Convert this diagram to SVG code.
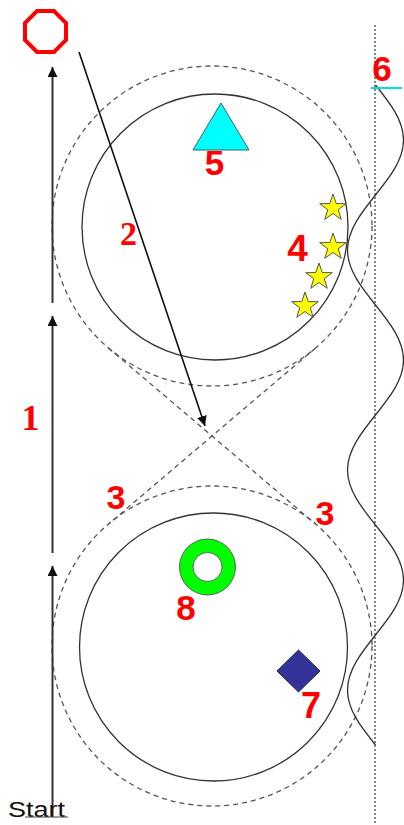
<svg xmlns="http://www.w3.org/2000/svg" width="404" height="825" viewBox="0 0 404 825">
<style>
.solid{fill:none;stroke:#333;stroke-width:1.3}
.dash{fill:none;stroke:#555;stroke-width:1.3;stroke-dasharray:5 4}
.arr{fill:none;stroke:#333;stroke-width:2}
.lbl{font-family:"Liberation Sans",Arial,sans-serif;font-weight:bold;fill:#ff0000;text-anchor:middle}
.lbs{font-family:"Liberation Serif","Times New Roman",serif;font-weight:bold;fill:#ff0000;text-anchor:middle}
.star{fill:#ffff00;stroke:#555;stroke-width:1}
</style>
<defs>
<marker id="ah" markerUnits="userSpaceOnUse" markerWidth="10" markerHeight="10" refX="10" refY="5" orient="auto" viewBox="0 0 10 10">
<path d="M0,0 L10,5 L0,10 Z" fill="#111"/>
</marker>
<path id="starShape" d="M0,-14 L3.23,-4.45 L13.31,-4.33 L5.23,1.7 L8.23,11.33 L0,5.5 L-8.23,11.33 L-5.23,1.7 L-13.31,-4.33 L-3.23,-4.45 Z"/>
</defs>

<g id="track">
<circle class="dash" cx="212" cy="226" r="160"/>
<circle class="dash" cx="212" cy="646" r="160"/>
<line class="dash" x1="108.4" y1="347.9" x2="315.6" y2="524.1"/>
<line class="dash" x1="315.6" y1="347.9" x2="108.4" y2="524.1"/>
<circle class="solid" cx="215" cy="227" r="133"/>
<circle class="solid" cx="213.5" cy="647" r="134"/>
</g>

<g id="boundary">
<line x1="375" y1="25" x2="375" y2="823" stroke="#111" stroke-width="1" stroke-dasharray="2 2"/>
<path class="solid" d="M375.5,85 C390.1,103.2 403.5,120 403.5,140 C403.5,180 347.5,210 347.5,250 C347.5,290 403.5,320 403.5,360 C403.5,400 347.5,430 347.5,470 C347.5,510 403.5,540 403.5,580 C403.5,620 347.5,650 347.5,690 C347.5,710 360.9,726.8 375.5,745"/>
<line x1="371" y1="88" x2="402" y2="88" stroke="#00e0e0" stroke-width="2"/>
</g>

<g id="connectors">
<line class="arr" x1="52.5" y1="817" x2="52.5" y2="566" marker-end="url(#ah)"/>
<line class="arr" x1="52.5" y1="553" x2="52.5" y2="316" marker-end="url(#ah)"/>
<line class="arr" x1="52.5" y1="303" x2="52.5" y2="67" marker-end="url(#ah)"/>
<line x1="79" y1="52" x2="205" y2="426" stroke="#111" stroke-width="1.6" marker-end="url(#ah)"/>
</g>

<g id="stop">
<polygon points="37,11 54,11 66,23 66,40 54,52 37,52 25,40 25,23" fill="none" stroke="#ff0000" stroke-width="4"/>
</g>

<g id="triangle">
<polygon points="221,103 193,150 249,150" fill="#00ffff" stroke="#336666" stroke-width="1"/>
</g>

<g id="stars">
<use href="#starShape" class="star" transform="translate(333,208)"/>
<use href="#starShape" class="star" transform="translate(333,247)"/>
<use href="#starShape" class="star" transform="translate(319,277)"/>
<use href="#starShape" class="star" transform="translate(305,306)"/>
</g>

<g id="ring">
<path d="M179.5,567 a28,28 0 1,0 56,0 a28,28 0 1,0 -56,0 Z M193,567 a14.5,14.5 0 1,0 29,0 a14.5,14.5 0 1,0 -29,0 Z" fill="#00ff00" fill-rule="evenodd" stroke="#444" stroke-width="0.8"/>
</g>

<g id="diamond">
<polygon points="298.5,650 320,671 298.5,692 277,671" fill="#333399" stroke="#222244" stroke-width="1"/>
</g>

<g id="labels">
<text class="lbs" x="30.5" y="430" font-size="36">1</text>
<text class="lbs" x="128.5" y="245" font-size="34">2</text>
<text class="lbl" x="116" y="509" font-size="34">3</text>
<text class="lbl" x="325" y="525" font-size="34">3</text>
<text class="lbl" x="297.5" y="261" font-size="37">4</text>
<text class="lbl" x="214.5" y="175" font-size="35">5</text>
<text class="lbl" x="382" y="81" font-size="35">6</text>
<text class="lbl" x="311" y="718" font-size="36">7</text>
<text class="lbl" x="186" y="620" font-size="35">8</text>
</g>

<g id="start">
<text x="8" y="817" font-family="Liberation Sans, Arial, sans-serif" font-size="22" fill="#111" textLength="57" lengthAdjust="spacingAndGlyphs">Start</text>
<line x1="25" y1="817" x2="68" y2="817" stroke="#444" stroke-width="1"/>
</g>
</svg>
